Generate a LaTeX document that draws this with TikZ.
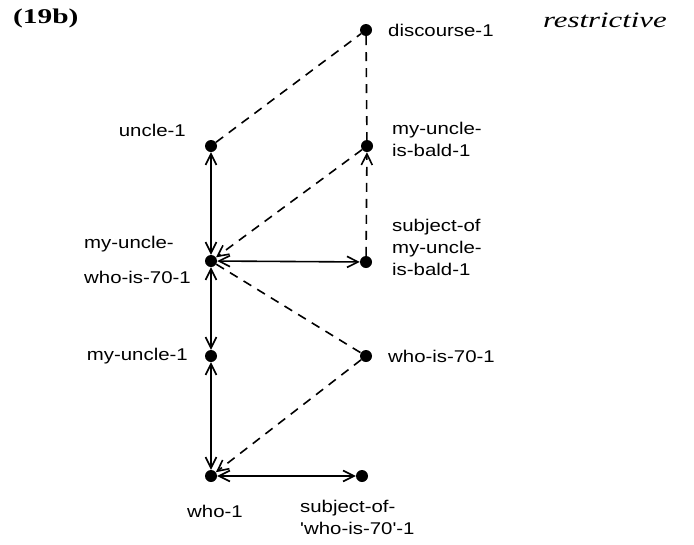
\documentclass[tikz,border=0pt]{standalone}
\usepackage{fontspec}
\setmainfont{Liberation Serif}
\newfontfamily\labelfont[FakeStretch=1.2]{Liberation Sans}
\newfontfamily\headfont[FakeStretch=1.4]{Liberation Serif}
\usetikzlibrary{arrows.meta}

\begin{document}
\begin{tikzpicture}[x=1pt,y=-1pt,
dot/.style = {circle, fill=black, inner sep=0pt, minimum size=12pt},
lbl/.style = {font=\labelfont\fontsize{17}{22}\selectfont, inner sep=0pt, align=left},
link/.style = {line width=1.6pt,
  {Straight Barb[length=11pt,width=11pt]}-{Straight Barb[length=11pt,width=11pt]}},
dlink/.style = {line width=1.6pt, dash pattern=on 9pt off 7pt},
tip/.style = {-{Straight Barb[length=11pt,width=11pt]}}
]
\useasboundingbox (0,0) rectangle (694,544);

% heads
\node [font=\headfont\bfseries\fontsize{21}{24}\selectfont, anchor=west, inner sep=0pt] (title) at (13,18) {(19b)};
\node [font=\headfont\itshape\fontsize{22}{24}\selectfont, anchor=east, inner sep=0pt] (kind) at (667,20) {restrictive};

% concepts
\node [dot] (disc) at (366,30) {};
\node [dot] (uncle) at (211,146) {};
\node [dot] (bald) at (367,146) {};
\node [dot] (mywho) at (211,261) {};
\node [dot] (subjbald) at (366,262) {};
\node [dot] (myuncle) at (211,356) {};
\node [dot] (whoseventy) at (366,356) {};
\node [dot] (who) at (211,476) {};
\node [dot] (subjwho) at (362,476) {};

\node [lbl, anchor=west] (discl) at (388,30) {discourse-1};
\node [lbl, anchor=east] (unclel) at (186,130) {uncle-1};
\node [lbl, anchor=west] (baldl) at (392,139) {my-uncle-\\is-bald-1};
\node [lbl, anchor=west] (mywhol1) at (84,244) {my-uncle-};
\node [lbl, anchor=west] (mywhol2) at (84,277) {who-is-70-1};
\node [lbl, anchor=west] (subjbaldl) at (392,247) {subject-of\\my-uncle-\\is-bald-1};
\node [lbl, anchor=east] (myunclel) at (188,356) {my-uncle-1};
\node [lbl, anchor=west] (whoseventyl) at (388,356) {who-is-70-1};
\node [lbl, anchor=west] (whol) at (187,511) {who-1};
\node [lbl, anchor=west] (subjwhol) at (300,517) {subject-of-\\'who-is-70'-1};

% solid links
\draw [link] (uncle) -- (mywho);
\draw [link] (mywho) -- (myuncle);
\draw [link] (myuncle) -- (who);
\draw [link] (mywho) -- (subjbald);
\draw [link] (who) -- (subjwho);

% dashed links
\draw [dlink] (uncle) -- (disc);
\draw [dlink] (disc) -- (bald);
\draw [dlink, tip] (subjbald) -- (bald);
\draw [dlink, tip] (bald) -- (mywho);
\draw [dlink] (mywho) -- (whoseventy);
\draw [dlink, tip] (whoseventy) -- (who);

\end{tikzpicture}
\end{document}
